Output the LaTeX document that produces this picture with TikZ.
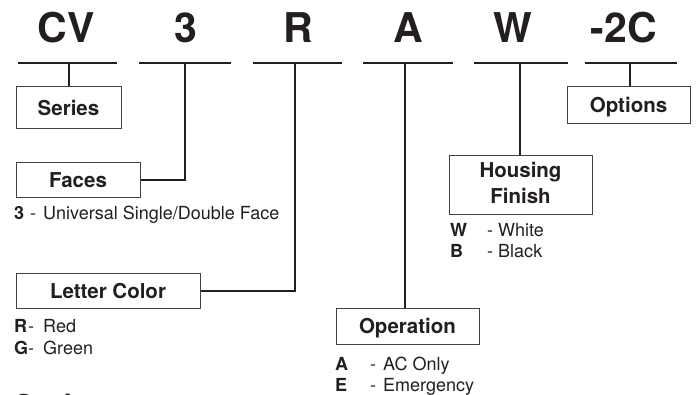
\documentclass[tikz,border=0pt]{standalone}
\usepackage{fontspec}
\setmainfont{TeX Gyre Heros}
\usetikzlibrary{positioning,calc}
\definecolor{ink}{RGB}{35,31,32}

\tikzset{
  code/.style={anchor=base, font=\bfseries\fontsize{41}{44}\selectfont, text=ink, inner sep=0pt},
  bar/.style={line width=2.4pt, draw=ink},
  link/.style={line width=2pt, draw=ink},
  field/.style={draw=ink!85, line width=1pt, font=\bfseries\fontsize{20.5}{26}\selectfont,
    text=ink, inner sep=0pt, text height=15pt, text depth=0pt, align=center},
  desc/.style={anchor=base west, font=\fontsize{18}{21}\selectfont, text=ink,
    inner sep=0pt, align=left}
}

\begin{document}
\begin{tikzpicture}[x=1pt,y=-1pt]
        \clip (0,0) rectangle (696,395);
        \fill[white] (0,0) rectangle (696,395);
        % model code letters with their bars
        \foreach \name/\txt/\cx/\lx/\rx in {cv/CV/66/18/117, three/3/186/139/231,
            r/R/298/253/342, a/A/408/363/453, w/W/513/474/568, opt/-2C/624/585/677}{
          \node[code] (\name) at (\cx,43) {\txt};
          \draw[bar] (\lx,63) -- (\rx,63);
        }
        \coordinate (tapCV) at (68.5,63);
        \coordinate (tap3) at (184.5,63);
        \coordinate (tapR) at (295,63);
        \coordinate (tapA) at (405,63);
        \coordinate (tapW) at (519.5,63);
        \coordinate (tap2C) at (629.5,63);
        % field boxes
        \node[field, minimum width=105pt, minimum height=42pt] (series) at (68.5,108) {Series};
        \node[field, minimum width=123pt, minimum height=37pt] (options) at (628.5,105.5) {Options};
        \node[field, minimum width=124pt, minimum height=35pt] (faces) at (78,180.5) {Faces};
        \node[field, minimum width=184pt, minimum height=35pt] (color) at (108,291.5) {Letter Color};
        \node[field, minimum width=143pt, minimum height=59pt, text height=41pt, text depth=5pt]
            (housing) at (520.5,185.5) {Housing\\Finish};
        \node[field, minimum width=143pt, minimum height=35pt] (operation) at (407.5,326.5) {Operation};
        % connectors
        \draw[link] (tapCV) -- (tapCV |- series.north);
        \draw[link] (tap2C) -- (tap2C |- options.north);
        \draw[link] (faces.east) -| (tap3);
        \draw[link] (color.east) -| (tapR);
        \draw[link] (tapW) -- (tapW |- housing.north);
        \draw[link] (tapA) -- (tapA |- operation.north);
        % choices (anchored on the last line)
        \node[desc] (facelist) at (14,220)
            {\makebox[16pt][l]{\textbf{3}}\makebox[13pt][l]{-}Universal Single/Double Face};
        \node[desc] (colorlist) at (14,354)
            {\makebox[14pt][l]{\textbf{R}}\makebox[15pt][l]{-}Red\\
             \makebox[14pt][l]{\textbf{G}}\makebox[15pt][l]{-}Green};
        \node[desc] (finishlist) at (450,258)
            {\makebox[37pt][l]{\textbf{W}}\makebox[11pt][l]{-}White\\
             \makebox[37pt][l]{\textbf{B}}\makebox[11pt][l]{-}Black};
        \node[desc] (oplist) at (335,391)
            {\makebox[35pt][l]{\textbf{A}}\makebox[13pt][l]{-}AC Only\\
             \makebox[35pt][l]{\textbf{E}}\makebox[13pt][l]{-}Emergency};
        % heading below, cut by the edge
        \node[anchor=base west, font=\bfseries\fontsize{30}{32}\selectfont, text=ink,
            inner sep=0pt] (heading) at (12,416) {Options};
    \end{tikzpicture}
\end{document}
